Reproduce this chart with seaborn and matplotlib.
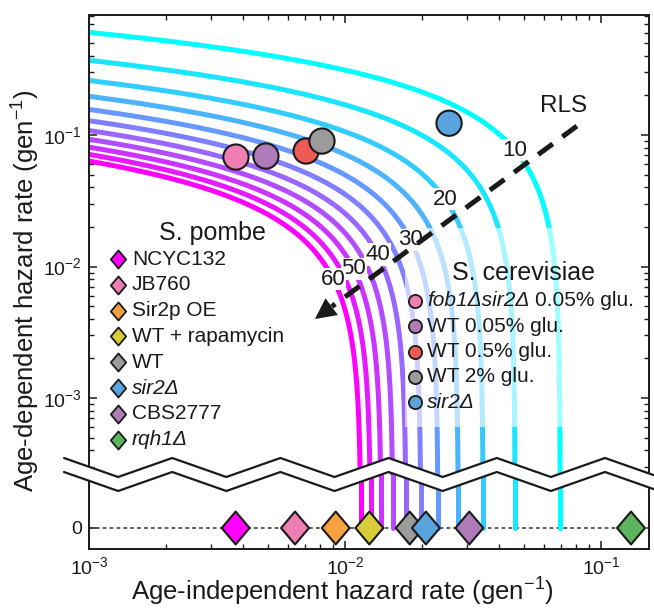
import numpy as np
import pandas as pd
import matplotlib
matplotlib.use("Agg")
import matplotlib.pyplot as plt
import matplotlib.ticker as mticker
from matplotlib.path import Path
from matplotlib.patches import Polygon, Rectangle
from matplotlib.lines import Line2D
import seaborn as sns

# ---------------------------------------------------------------- data
# Median replicative lifespan (generations) of the iso-lifespan curves
rls_levels = [10, 15, 20, 25, 30, 35, 40, 45, 50, 55, 60]
# curves carrying an inline RLS label, and the age-independent rate at each label
labelled_rls = [10, 20, 30, 40, 50, 60]
label_at_rate = [0.0461, 0.0246, 0.0180, 0.0134, 0.0108, 0.0090]

# S. pombe: age-independent hazard only (age-dependent rate = 0)
pombe_strains = ["NCYC132", "JB760", "Sir2p OE", "WT + rapamycin", "WT",
                 "sir2Δ", "CBS2777", "rqh1Δ"]
pombe_indep = [0.00374, 0.00638, 0.0092, 0.01245, 0.0179, 0.0207, 0.0306, 0.131]
pombe_dep = [0, 0, 0, 0, 0, 0, 0, 0]
pombe_colors = ["#FF00FF", "#EF7FB2", "#F6A13F", "#D9CC3B", "#9B9B9B",
                "#5AA3DC", "#AF7BB8", "#5DB65D"]
pombe_italic = [False, False, False, False, False, True, False, True]

# S. cerevisiae strains
cerev_strains = ["fob1Δsir2Δ 0.05% glu.", "WT 0.05% glu.", "WT 0.5% glu.",
                 "WT 2% glu.", "sir2Δ (S.c.)"]
cerev_indep = [0.00375, 0.00491, 0.00705, 0.00813, 0.0255]
cerev_dep = [0.068, 0.0692, 0.0756, 0.090, 0.123]
cerev_colors = ["#EF7FB2", "#AF7BB8", "#EF5A55", "#9B9B9B", "#5AA3DC"]
# (italic part, upright part) of each key entry
cerev_labels = [("fob1Δsir2Δ", "0.05% glu."), ("", "WT 0.05% glu."),
                ("", "WT 0.5% glu."), ("", "WT 2% glu."), ("sir2Δ", "")]

# ---------------------------------------------------------------- style
sns.set_style("ticks")
plt.rcParams["font.family"] = ["Liberation Sans", "DejaVu Sans"]
plt.rcParams["mathtext.fontset"] = "custom"
plt.rcParams["mathtext.rm"] = "Liberation Sans"
plt.rcParams["mathtext.it"] = "Liberation Sans:italic"
plt.rcParams["mathtext.bf"] = "Liberation Sans:bold"
INK = "#1a1a1a"

W, H = 654, 612
fig = plt.figure(figsize=(W / 100, H / 100), dpi=100)


def fx(px):
    return px / W


def fy(py):
    return 1 - py / H


ax = fig.add_axes([fx(89), fy(475), fx(649) - fx(89), fy(15) - fy(475)])
axb = fig.add_axes([fx(89), fy(549), fx(649) - fx(89), fy(475) - fy(549)])

cmap = plt.get_cmap("cool")
palette = {L: cmap(i / (len(rls_levels) - 1)) for i, L in enumerate(rls_levels)}

# Gompertz hazard lam*exp(G t): median lifespan L where lam*(exp(G L)-1)/G = ln 2
G = np.geomspace(1e-5, 3.0, 1500)
frames = []
for L in rls_levels:
    lam = np.log(2) * G / np.expm1(G * L)
    frames.append(pd.DataFrame({"indep": lam, "dep": G, "rls": L}))
curves = pd.concat(frames, ignore_index=True)

# below the axis break the curves reach G = 0 at lam = ln2 / L
stems = pd.DataFrame({
    "indep": np.repeat([np.log(2) / L for L in rls_levels], 2),
    "dep": np.tile([0, 60], len(rls_levels)),
    "rls": np.repeat(rls_levels, 2),
})

sns.lineplot(data=curves, x="indep", y="dep", hue="rls", palette=palette,
             sort=False, estimator=None, linewidth=3.6, legend=False, ax=ax,
             zorder=2)
sns.lineplot(data=stems, x="indep", y="dep", hue="rls", palette=palette,
             sort=False, estimator=None, linewidth=3.6, legend=False, ax=axb,
             zorder=2)

ax.set_xscale("log")
ax.set_yscale("log")
axb.set_xscale("log")

# S. cerevisiae circles
sns.scatterplot(x=cerev_indep, y=cerev_dep, hue=cerev_strains,
                palette=dict(zip(cerev_strains, cerev_colors)), s=330,
                edgecolor=INK, linewidth=1.5, legend=False, ax=ax, zorder=5)

# S. pombe diamonds on the zero line
diamond = Path([(0, 1), (0.85, 0), (0, -1), (-0.85, 0), (0, 1)],
               [Path.MOVETO, Path.LINETO, Path.LINETO, Path.LINETO, Path.CLOSEPOLY])
axb.axhline(0, color="#333333", lw=1.1, ls=(0, (2.5, 2)), zorder=1)
sns.scatterplot(x=pombe_indep, y=pombe_dep, hue=pombe_strains,
                palette=dict(zip(pombe_strains, pombe_colors)), marker=diamond,
                s=560, edgecolor=INK, linewidth=1.5, legend=False, ax=axb,
                zorder=5)

# inline RLS labels sitting on their curves
for L, xl in zip(labelled_rls, label_at_rate):
    sub = curves[curves.rls == L]
    yl = 10 ** np.interp(np.log10(xl), np.log10(sub["indep"].values[::-1]),
                         np.log10(sub["dep"].values[::-1]))
    ax.text(xl, yl, str(L), ha="center", va="center", fontsize=16,
            color=INK, zorder=6,
            bbox=dict(boxstyle="square,pad=0.03", fc="white", ec="none"))

# RLS direction arrow
start = np.array([0.0805, 0.117])
tip = np.array([0.00763, 0.00399])
base = 10 ** (np.log10(tip) + 0.065 * (np.log10(start) - np.log10(tip)))
ax.plot([start[0], base[0]], [start[1], base[1]], color=INK, lw=3.6,
        ls=(0, (3.6, 2.4)), solid_capstyle="butt", dash_capstyle="butt",
        zorder=7)
ax.annotate("", xy=tip, xytext=base,
            arrowprops=dict(arrowstyle="-|>,head_length=1.0,head_width=0.5",
                            mutation_scale=15, color=INK, lw=0,
                            shrinkA=0, shrinkB=0), zorder=7)
ax.text(0.0711, 0.166, "RLS", ha="center", va="center", fontsize=17.5,
        color=INK, zorder=7)

# axes limits and ticks
xlim = (1e-3, 0.154)
ax.set_xlim(xlim)
axb.set_xlim(xlim)
ax.set_ylim(2.6e-4, 0.818)
axb.set_ylim(-21, 53)

for a in (ax, axb):
    a.xaxis.set_major_locator(mticker.LogLocator(base=10, numticks=10))
    a.xaxis.set_minor_locator(mticker.LogLocator(base=10, subs=np.arange(2, 10), numticks=10))
    a.xaxis.set_minor_formatter(mticker.NullFormatter())
    a.set_xlabel("")
    a.set_ylabel("")
    for sp in a.spines.values():
        sp.set_linewidth(1.4)
        sp.set_color(INK)
ax.yaxis.set_major_locator(mticker.LogLocator(base=10, numticks=10))
ax.yaxis.set_minor_locator(mticker.LogLocator(base=10, subs=np.arange(2, 10), numticks=10))
ax.yaxis.set_minor_formatter(mticker.NullFormatter())

ax.spines["bottom"].set_visible(False)
axb.spines["top"].set_visible(False)
ax.tick_params(which="both", direction="in", top=True, right=True,
               bottom=False, labelbottom=False, colors=INK)
ax.tick_params(which="major", length=6, width=1.1, labelsize=14, pad=5)
ax.tick_params(which="minor", length=3.5, width=1.0)
axb.set_yticks([0])
axb.set_yticklabels(["0"])
axb.tick_params(which="both", direction="in", top=False, right=False, colors=INK)
axb.tick_params(which="major", length=6, width=1.1, labelsize=14, pad=5)
axb.tick_params(which="minor", length=3.5, width=1.0)
axb.tick_params(axis="x", which="major", pad=5)

# axis break: white band between two zigzag lines
xs = 64 + 54.1 * np.arange(12)
upper = np.where(np.arange(12) % 2 == 0, 458, 477)
lower = upper + 14
band = np.column_stack([np.r_[xs, xs[::-1]], np.r_[upper, lower[::-1]]])
fig.add_artist(Polygon(np.column_stack([fx(band[:, 0]), fy(band[:, 1])]),
                       closed=True, fc="white", ec="none",
                       transform=fig.transFigure, zorder=10))
for yy in (upper, lower):
    fig.add_artist(Line2D(fx(xs), fy(yy), color=INK, lw=1.6,
                          transform=fig.transFigure, zorder=11))

# S. pombe key
fig.text(fx(212), fy(233), "S. pombe", ha="center", va="center",
         fontsize=18, color=INK, zorder=12)
for i, (lab, col, it) in enumerate(zip(pombe_strains, pombe_colors, pombe_italic)):
    yy = 259 + 25.8 * i
    fig.add_artist(Line2D([fx(118)], [fy(yy)], marker=diamond, markersize=13,
                          mfc=col, mec=INK, mew=1.3, ls="none",
                          transform=fig.transFigure, zorder=12))
    fig.text(fx(132), fy(yy), lab, ha="left", va="center", fontsize=15,
             style="italic" if it else "normal", color=INK, zorder=12)

# S. cerevisiae key on a translucent white panel
ax.add_patch(Rectangle((fx(405), fy(427)), fx(640) - fx(405), fy(228) - fy(427),
                       transform=fig.transFigure, fc="white", ec="none",
                       alpha=0.62, zorder=3))
fig.text(fx(523), fy(273), "S. cerevisiae", ha="center", va="center",
         fontsize=18, color=INK, zorder=12)
renderer = fig.canvas.get_renderer()
for i, ((it_part, rm_part), col) in enumerate(zip(cerev_labels, cerev_colors)):
    yy = 301 + 25.3 * i
    fig.add_artist(Line2D([fx(415)], [fy(yy)], marker="o", markersize=9.5,
                          mfc=col, mec=INK, mew=1.3, ls="none",
                          transform=fig.transFigure, zorder=12))
    x_px = 427
    if it_part:
        t = fig.text(fx(x_px), fy(yy), it_part, ha="left", va="center",
                     fontsize=15, style="italic", color=INK, zorder=12)
        x_px = t.get_window_extent(renderer).x1 + 5.5
    if rm_part:
        fig.text(fx(x_px), fy(yy), rm_part, ha="left", va="center",
                 fontsize=15, color=INK, zorder=12)

# axis titles
fig.text(fx(342), fy(592), "Age-independent hazard rate (gen$^{-1}$)",
         ha="center", va="center", fontsize=18.5, color=INK)
fig.text(fx(26), fy(291), "Age-dependent hazard rate (gen$^{-1}$)",
         ha="center", va="center", rotation=90, fontsize=18.5, color=INK)

fig.savefig("out.png", dpi=100)
